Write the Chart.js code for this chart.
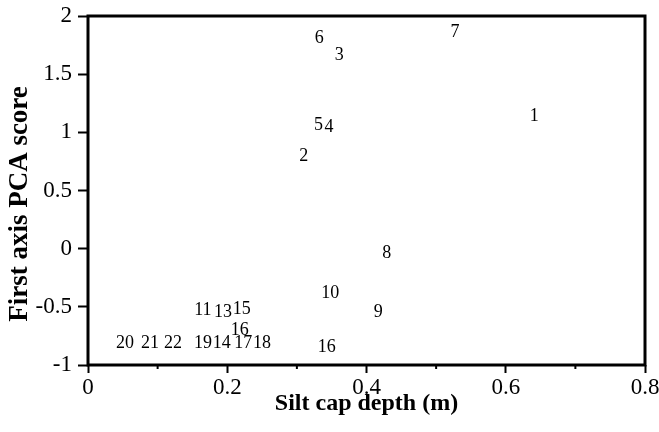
<!DOCTYPE html>
<html>
<head>
<meta charset="utf-8">
<script src="https://cdn.jsdelivr.net/npm/chart.js@4"></script>
<style>
  html, body { margin: 0; padding: 0; background: #fff; }
  #wrap { width: 659px; height: 432px; }
</style>
</head>
<body>
<div id="wrap"><canvas id="myChart" width="659" height="432"></canvas></div>
<script>
// site numbers, silt cap depth (m), first axis PCA score
const siteLabels = ['1', '2', '3', '4', '5', '6', '7', '8', '9', '10', '11', '13', '15', '16', '16', '14', '17', '18', '19', '20', '21', '22'];
const siltDepth = [0.641, 0.310, 0.361, 0.346, 0.331, 0.332, 0.527, 0.429, 0.417, 0.348, 0.165, 0.194, 0.221, 0.218, 0.343, 0.192, 0.223, 0.250, 0.165, 0.053, 0.089, 0.122];
const pcaScore = [1.14, 0.79, 1.66, 1.04, 1.06, 1.81, 1.86, -0.04, -0.55, -0.38, -0.53, -0.55, -0.52, -0.70, -0.85, -0.81, -0.81, -0.81, -0.81, -0.81, -0.81, -0.81];
const minorX = [0.1, 0.3, 0.5, 0.7];

const points = siltDepth.map((x, i) => ({ x: x, y: pcaScore[i] }));

const serif = "'Liberation Serif', 'Times New Roman', serif";

// writes the site number where each point sits, plus the frame and minor ticks
const labelPlugin = {
  id: 'labelPlugin',
  afterDatasetsDraw(chart) {
    const ctx = chart.ctx;
    const meta = chart.getDatasetMeta(0);
    ctx.save();
    ctx.fillStyle = '#000';
    ctx.font = '18px ' + serif;
    ctx.textAlign = 'center';
    ctx.textBaseline = 'middle';
    meta.data.forEach((pt, i) => {
      ctx.fillText(siteLabels[i], pt.x, pt.y);
    });
    ctx.restore();
  },
  afterDraw(chart) {
    const ctx = chart.ctx;
    const a = chart.chartArea;
    const xs = chart.scales.x;
    ctx.save();
    ctx.strokeStyle = '#000';
    ctx.lineWidth = 3;
    ctx.strokeRect(a.left, a.top, a.right - a.left, a.bottom - a.top);
    ctx.lineWidth = 2;
    minorX.forEach(v => {
      const px = xs.getPixelForValue(v);
      ctx.beginPath();
      ctx.moveTo(px, a.bottom);
      ctx.lineTo(px, a.bottom + 4);
      ctx.stroke();
    });
    ctx.restore();
  }
};

new Chart('myChart', {
  type: 'scatter',
  data: {
    datasets: [{
      data: points,
      pointRadius: 0,
      pointHoverRadius: 0,
      showLine: false
    }]
  },
  options: {
    responsive: false,
    animation: false,
    events: [],
    layout: { padding: { top: 16, right: 14, left: 0, bottom: 0 } },
    plugins: { legend: { display: false }, tooltip: { enabled: false } },
    scales: {
      x: {
        type: 'linear',
        min: 0,
        max: 0.8,
        border: { display: false },
        grid: { drawOnChartArea: false, drawTicks: true, tickLength: 8, tickWidth: 2, tickColor: '#000' },
        ticks: {
          stepSize: 0.2,
          color: '#000',
          padding: 1,
          font: { family: serif, size: 23 },
          callback: v => (Math.round(v * 10) / 10).toString()
        },
        title: {
          display: true,
          text: 'Silt cap depth (m)',
          color: '#000',
          font: { family: serif, size: 24, weight: 'bold' },
          padding: { top: 0, bottom: 14 }
        },
        afterFit: s => { s.height = 67; s.paddingLeft = 0; s.paddingRight = 0; }
      },
      y: {
        type: 'linear',
        min: -1,
        max: 2,
        border: { display: false },
        grid: { drawOnChartArea: false, drawTicks: true, tickLength: 10, tickWidth: 2, tickColor: '#000' },
        ticks: {
          stepSize: 0.5,
          color: '#000',
          padding: 6,
          font: { family: serif, size: 23 },
          callback: v => (Math.round(v * 10) / 10).toString()
        },
        title: {
          display: true,
          text: 'First axis PCA score    ',
          color: '#000',
          font: { family: serif, size: 27, weight: 'bold' },
          padding: { top: 4, bottom: 0 }
        },
        afterFit: s => { s.width = 88; s.paddingTop = 0; s.paddingBottom = 0; }
      }
    }
  },
  plugins: [labelPlugin]
});
</script>
</body>
</html>
